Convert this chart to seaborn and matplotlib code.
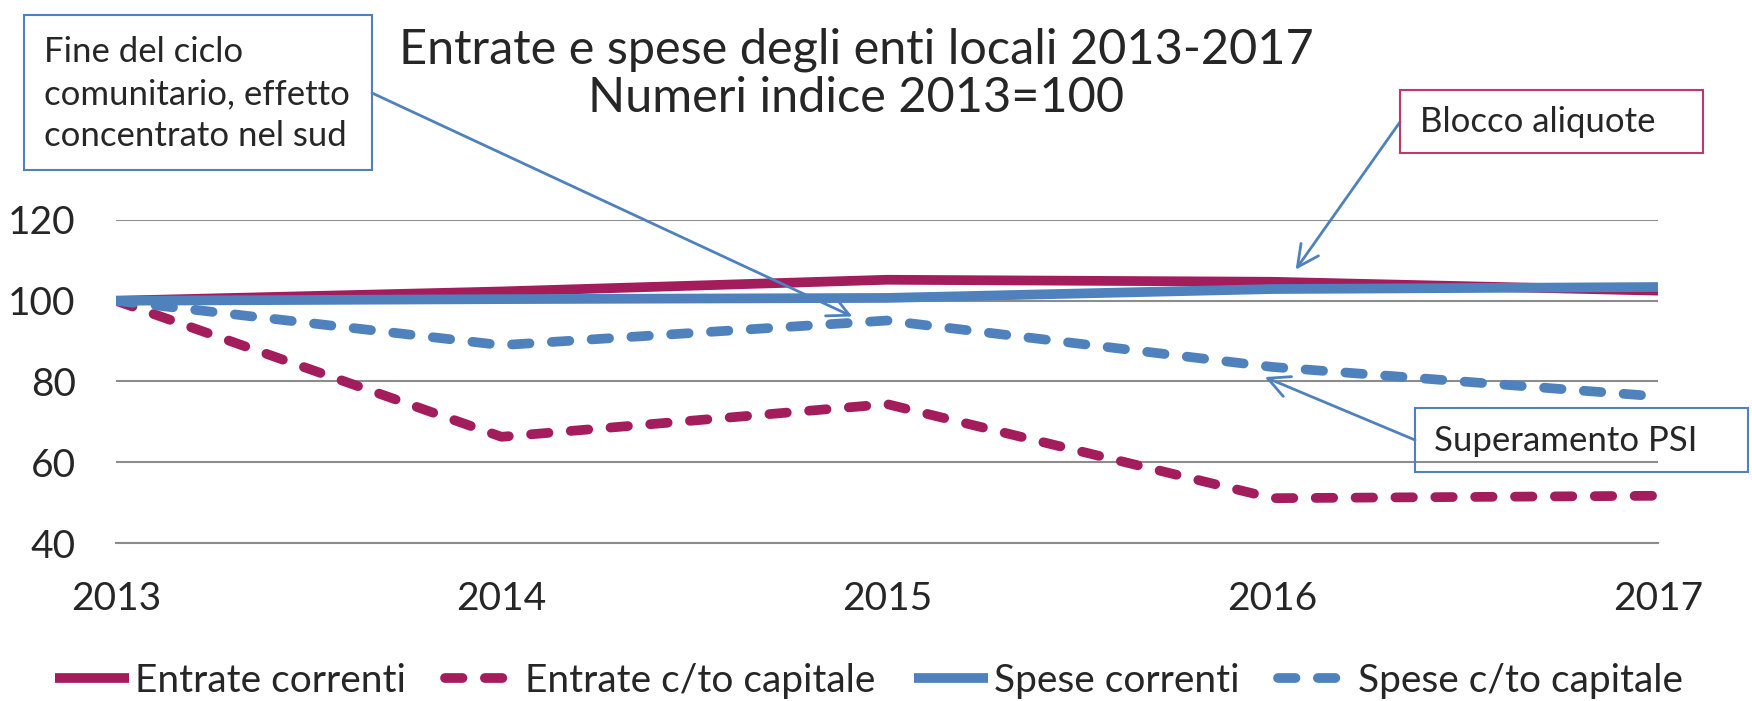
import pandas as pd
import matplotlib.pyplot as plt
from matplotlib.patches import Rectangle
import seaborn as sns

# ---------------------------------------------------------------------------
# Data (numeri indice, 2013 = 100)
# ---------------------------------------------------------------------------

ANNI = [2013, 2014, 2015, 2016, 2017]
ENTRATE_CORRENTI = [100.0, 102.3, 105.2, 104.7, 102.5]
ENTRATE_CAPITALE = [100.0, 66.3, 74.4, 51.1, 51.7]
SPESE_CORRENTI = [100.0, 100.4, 100.7, 102.9, 103.4]
SPESE_CAPITALE = [100.0, 89.0, 95.1, 83.6, 76.3]

SERIE = ["Entrate correnti", "Entrate c/to capitale", "Spese correnti", "Spese c/to capitale"]
Y_TICKS = [40, 60, 80, 100, 120]

TITOLO = "Entrate e spese degli enti locali 2013-2017\nNumeri indice 2013=100"

# ---------------------------------------------------------------------------
# Style
# ---------------------------------------------------------------------------

MAROON = "#A31C5B"
BLUE = "#4F81BD"
PINK_BORDER = "#C0366F"
GRID = "#8C8C8C"
W, H = 1752, 701

sns.set_style("white")
plt.rcParams["font.family"] = ["Lato", "DejaVu Sans"]


def fx(x):
    return x / W


def fy(y):
    return 1 - y / H


df = pd.DataFrame({
    "anno": ANNI * 4,
    "valore": ENTRATE_CORRENTI + ENTRATE_CAPITALE + SPESE_CORRENTI + SPESE_CAPITALE,
    "serie": [s for s in SERIE for _ in ANNI],
})

palette = dict(zip(SERIE, [MAROON, MAROON, BLUE, BLUE]))
dashes = dict(zip(SERIE, ["", (1.8, 2.3), "", (1.8, 2.3)]))

fig = plt.figure(figsize=(W / 100, H / 100), dpi=100)
ax = fig.add_axes([fx(116), fy(543), fx(1658 - 116), (543 - 220) / H])

sns.lineplot(
    data=df, x="anno", y="valore", hue="serie", style="serie",
    hue_order=SERIE, style_order=SERIE, palette=palette, dashes=dashes,
    lw=7, dash_capstyle="round", solid_capstyle="butt", legend=False, ax=ax,
)

ax.set_xlim(ANNI[0], ANNI[-1])
ax.set_ylim(Y_TICKS[0], Y_TICKS[-1])
ax.set_xticks(ANNI)
ax.set_xticklabels([str(a) for a in ANNI])
ax.set_yticks(Y_TICKS)
ax.set_xlabel("")
ax.set_ylabel("")
ax.grid(axis="y", color=GRID, lw=1.5)
ax.grid(axis="x", visible=False)
for side in ["top", "right", "left"]:
    ax.spines[side].set_visible(False)
ax.spines["bottom"].set_color(GRID)
ax.spines["bottom"].set_linewidth(1.5)
ax.tick_params(axis="x", direction="inout", length=19, width=1.5, color=GRID,
               labelsize=28, pad=18)
ax.tick_params(axis="y", length=0, labelsize=28, pad=29)

fig.text(fx(856), fy(74), TITOLO, ha="center", va="center", fontsize=35,
         linespacing=1.12)

legend = fig.legend(
    ax.get_lines()[:4], SERIE, loc="center", bbox_to_anchor=(fx(869), fy(681)),
    ncol=4, frameon=False, fontsize=28, handlelength=1.9, handletextpad=0.15,
    columnspacing=1.0,
)

# ---------------------------------------------------------------------------
# Annotation boxes and arrows
# ---------------------------------------------------------------------------

boxes = [
    # (left, top, right, bottom, border colour, text, text x, text y)
    (24, 15, 372, 170, BLUE, "Fine del ciclo\ncomunitario, effetto\nconcentrato nel sud", 44, 94),
    (1400, 90, 1703, 153, PINK_BORDER, "Blocco aliquote", 1420, 122),
    (1415, 408, 1748, 472, BLUE, "Superamento PSI", 1434, 441),
]
for left, top, right, bottom, col, txt, tx, ty in boxes:
    fig.add_artist(Rectangle((fx(left), fy(bottom)), fx(right - left), (bottom - top) / H,
                             transform=fig.transFigure, fill=False, ec=col, lw=1.5,
                             zorder=5))
    fig.text(fx(tx), fy(ty), txt, ha="left", va="center", fontsize=25,
             linespacing=1.4, zorder=6)

arrows = [
    # (target year, target value, start pixel x, start pixel y)
    (2014.91, 96.1, 372, 93),
    (2016.06, 107.7, 1400, 122),
    (2015.98, 81.1, 1415, 440),
]
for xa, ya, sx, sy in arrows:
    ax.annotate(
        "", xy=(xa, ya), xycoords="data",
        xytext=(fx(sx), fy(sy)), textcoords="figure fraction",
        arrowprops=dict(arrowstyle="->,head_length=0.7,head_width=0.35",
                        color=BLUE, lw=2, mutation_scale=22, shrinkA=0, shrinkB=0),
        annotation_clip=False, zorder=10,
    )

fig.savefig("out.png", dpi=100)
